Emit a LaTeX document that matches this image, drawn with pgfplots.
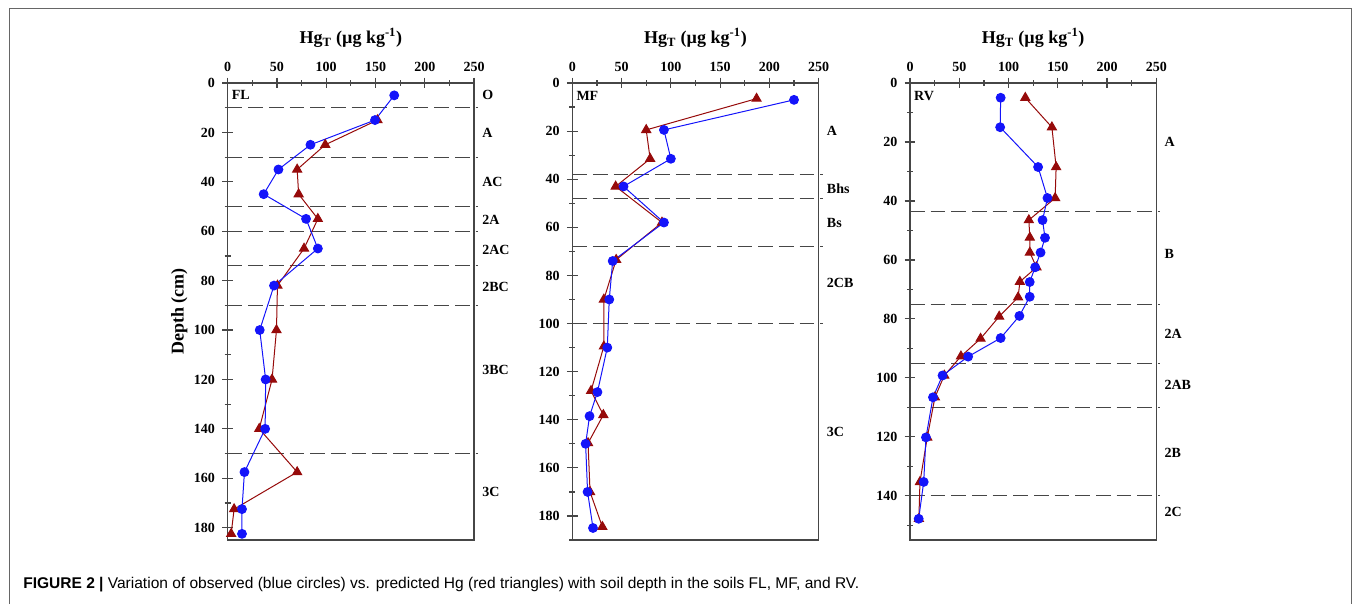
\documentclass[border=0pt]{standalone}
\usepackage{fontspec}
\setmainfont{Liberation Serif}
\newfontfamily\capfont{Liberation Sans}
\usepackage{pgfplots}
\pgfplotsset{compat=1.18}

\definecolor{obsblue}{RGB}{20,20,250}
\definecolor{predred}{RGB}{150,10,10}
\definecolor{axgray}{RGB}{70,70,70}

\tikzset{
  hz/.style={draw=axgray, line width=0.8pt, dash pattern=on 11pt off 4.5pt},
  hl/.style={anchor=west, inner sep=0pt, xshift=6pt, font=\bfseries\fontsize{10.5}{12}\selectfont},
  pl/.style={anchor=west, inner sep=0pt, font=\bfseries\fontsize{10.5}{12}\selectfont},
}
\pgfplotsset{
  soil/.style={
    scale only axis, width=184.75pt, height=342.75pt,
    anchor=north west, clip=false,
    xmin=0, xmax=250, ymin=0, y dir=reverse,
    xtick={0,50,...,250}, minor xtick={25,75,...,225},
    ytick={0,20,...,180}, minor ytick={10,30,...,190},
    xtick pos=right, xticklabel pos=right,
    ytick pos=left, yticklabel pos=left,
    tick align=center, major tick length=8pt, minor tick length=4.5pt,
    axis line style={draw=axgray, line width=1pt},
    every tick/.style={draw=axgray, line width=0.9pt},
    /pgf/number format/assume math mode=true,
    ticklabel style={font=\bfseries\fontsize{10.5}{12}\selectfont},
    xticklabel style={yshift=1pt},
    yticklabel style={xshift=-2pt},
    title={\bfseries\fontsize{13.5}{15}\selectfont Hg\textsubscript{T} (µg kg\textsuperscript{-1})},
    title style={yshift=17pt},
  },
  obs/.style={obsblue, line width=0.75pt, mark=*, mark size=3.3pt, mark options={fill=obsblue, draw=obsblue}},
  pred/.style={predred, line width=0.75pt, mark=triangle*, mark size=3.9pt, mark options={fill=predred, draw=predred}},
}

\begin{document}
\begin{tikzpicture}[x=0.75pt, y=-0.75pt]
\useasboundingbox (0,0) rectangle (1355,604);
% outer frame (open at the bottom)
\draw[draw=black!60, line width=0.9pt] (9.5,604) -- (9.5,8.3) -- (1351.7,8.3) -- (1351.7,604);

% ---------- FL ----------
\begin{axis}[soil, at={(170.775pt,-62.25pt)}, ymax=185,
  ylabel={\bfseries\fontsize{13.5}{15}\selectfont Depth (cm)},
  ylabel style={yshift=-2pt}]
\pgfplotsinvokeforeach{10,30,50,60,74,90,150}{
  \draw[hz] (axis cs:0,#1) -- ([xshift=3pt]axis cs:250,#1);
}
\addplot[pred] coordinates {(152,15)(99,25)(70.5,35)(72,45)(91.5,55)(77.5,67)(50.5,82)(49.5,100)(45,120)(32,140)(70.5,157.5)(6.5,172.5)(3.5,182.5)};
\addplot[obs] coordinates {(169,5)(149.5,15)(84,25)(51.5,35)(36.5,45)(79.5,55)(91.5,67)(47,82)(32.5,100)(38.5,120)(38,140)(17,157.5)(14.5,172.5)(14.5,182.5)};
\node[pl] at (axis cs:4,5) {FL};
\node[hl] at (axis cs:250,5) {O};
\node[hl] at (axis cs:250,20) {A};
\node[hl] at (axis cs:250,40) {AC};
\node[hl] at (axis cs:250,55.5) {2A};
\node[hl] at (axis cs:250,67.5) {2AC};
\node[hl] at (axis cs:250,82.5) {2BC};
\node[hl] at (axis cs:250,116) {3BC};
\node[hl] at (axis cs:250,165.5) {3C};
\end{axis}

% ---------- MF ----------
\begin{axis}[soil, at={(429.225pt,-62.25pt)}, ymax=190]
\pgfplotsinvokeforeach{38,48,68,100}{
  \draw[hz] (axis cs:0,#1) -- ([xshift=3pt]axis cs:250,#1);
}
\addplot[pred] coordinates {(187,6.5)(75,19.5)(79,31.5)(44,43)(91,58)(44.5,73.5)(32,90)(32,109.5)(19,128)(31.5,138)(16,149.7)(18,170)(30.5,184.5)};
\addplot[obs] coordinates {(225,7)(93,19.5)(100,31.5)(52,43)(93,58)(41,74)(37.5,90)(35.5,110)(25.5,128.5)(17.5,138.5)(13.5,150)(15.5,170)(21,185)};
\node[pl] at (axis cs:4,5.5) {MF};
\node[hl] at (axis cs:250,20) {A};
\node[hl] at (axis cs:250,44) {Bhs};
\node[hl] at (axis cs:250,58) {Bs};
\node[hl] at (axis cs:250,83) {2CB};
\node[hl] at (axis cs:250,145) {3C};
\end{axis}

% ---------- RV ----------
\begin{axis}[soil, at={(682.5pt,-62.25pt)}, ymax=155]
\pgfplotsinvokeforeach{43.5,75,95,110,140}{
  \draw[hz] (axis cs:0,#1) -- ([xshift=3pt]axis cs:250,#1);
}
\addplot[pred] coordinates {(117,5)(144,15)(148.3,28.5)(147.3,39)(120.6,46.5)(121.6,52.4)(121.6,57.5)(128.4,62.5)(111.5,67.4)(109.7,72.7)(90.5,79.2)(71.6,86.7)(51.7,92.7)(34.8,99.2)(25.3,106.6)(17.5,120.2)(10.1,135.3)(9,147.8)};
\addplot[obs] coordinates {(92,5)(91.5,15)(130,28.5)(139.5,39)(134.5,46.5)(137,52.5)(132.5,57.5)(127,62.5)(121.5,67.5)(121.5,72.5)(111,79)(92,86.5)(59,92.8)(33,99.2)(23.3,106.6)(16.2,120.2)(13.9,135.3)(8.8,147.8)};
\node[pl] at (axis cs:4,4.5) {RV};
\node[hl] at (axis cs:250,20) {A};
\node[hl] at (axis cs:250,58) {B};
\node[hl] at (axis cs:250,85) {2A};
\node[hl] at (axis cs:250,102.5) {2AB};
\node[hl] at (axis cs:250,125.5) {2B};
\node[hl] at (axis cs:250,145.5) {2C};
\end{axis}

% caption
\node[anchor=west, inner sep=0pt, font=\capfont\fontsize{11.65}{13}\selectfont] at (23,585)
  {\textbf{FIGURE 2 |} Variation of observed (blue circles) vs. predicted Hg (red triangles) with soil depth in the soils FL, MF, and RV.};
\end{tikzpicture}
\end{document}
